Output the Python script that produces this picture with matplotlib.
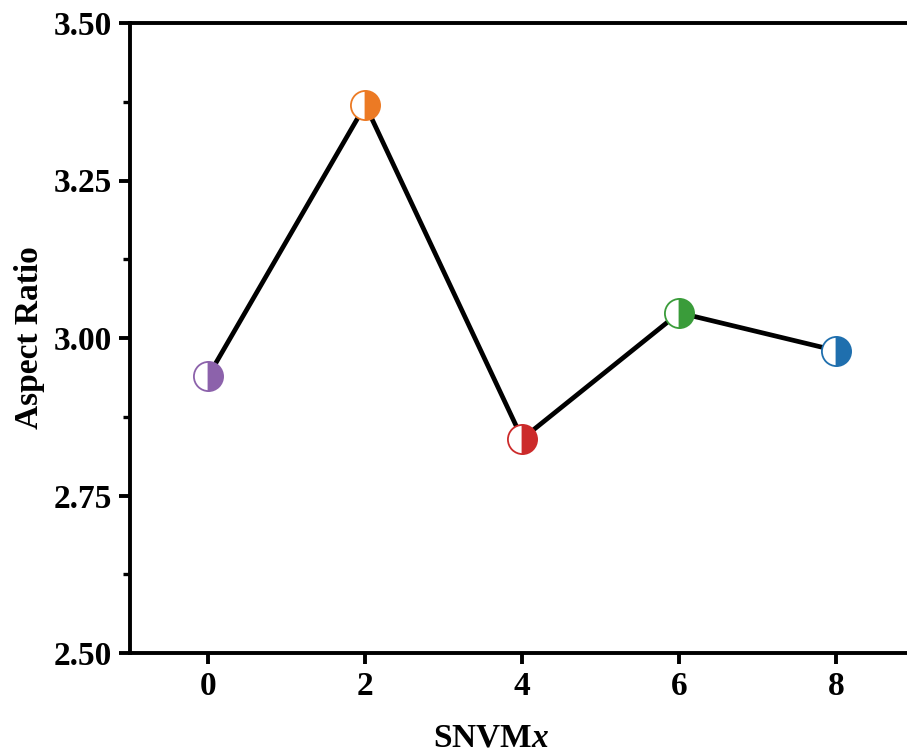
import matplotlib
matplotlib.use("Agg")
import matplotlib.pyplot as plt
from matplotlib.ticker import MultipleLocator

x_vals = [0, 2, 4, 6, 8]
aspect_ratio = [2.94, 3.37, 2.84, 3.04, 2.98]
point_colors = ["#8c62ab", "#ec7a24", "#cc2b2b", "#3a9c3a", "#1f6fae"]

plt.rcParams.update({
    "font.family": "Liberation Serif", "font.weight": "bold",
    "mathtext.fontset": "custom", "mathtext.it": "Liberation Serif:italic:bold",
    "mathtext.rm": "Liberation Serif:bold",
    "axes.linewidth": 2.8, "xtick.major.width": 2.8, "ytick.major.width": 2.8,
    "ytick.minor.width": 2.4,
})

fig = plt.figure(figsize=(9.07, 7.56), dpi=100)
ax = fig.add_axes([130/907, 1-653/756, (914.5-130)/907, (653-23)/756])

ax.plot(x_vals, aspect_ratio, color="black", lw=3.4, zorder=2)
for xv, yv, c in zip(x_vals, aspect_ratio, point_colors):
    ax.plot([xv], [yv], marker="o", ms=21, fillstyle="right", markerfacecolor=c,
            markerfacecoloralt="white", markeredgecolor=c, markeredgewidth=1.3,
            linestyle="none", zorder=3)

ax.set_xlim(-1, 9)
ax.set_ylim(2.5, 3.5)
ax.set_xticks(x_vals)
ax.yaxis.set_major_locator(MultipleLocator(0.25))
ax.yaxis.set_minor_locator(MultipleLocator(0.125))
ax.yaxis.set_major_formatter(plt.FormatStrFormatter("%.2f"))
ax.tick_params(axis="both", which="major", length=8, labelsize=24, direction="out", pad=5)
ax.tick_params(axis="y", which="minor", length=5, direction="out")
ax.spines["right"].set_visible(False)

ax.set_ylabel("Aspect Ratio", fontsize=24, fontweight="bold")
ax.set_xlabel("SNVM$\\mathit{x}$", fontsize=24, fontweight="bold")
ax.yaxis.set_label_coords(-0.108, 0.5)
ax.xaxis.set_label_coords(0.46, -0.11)

fig.savefig("out.png", dpi=100)
